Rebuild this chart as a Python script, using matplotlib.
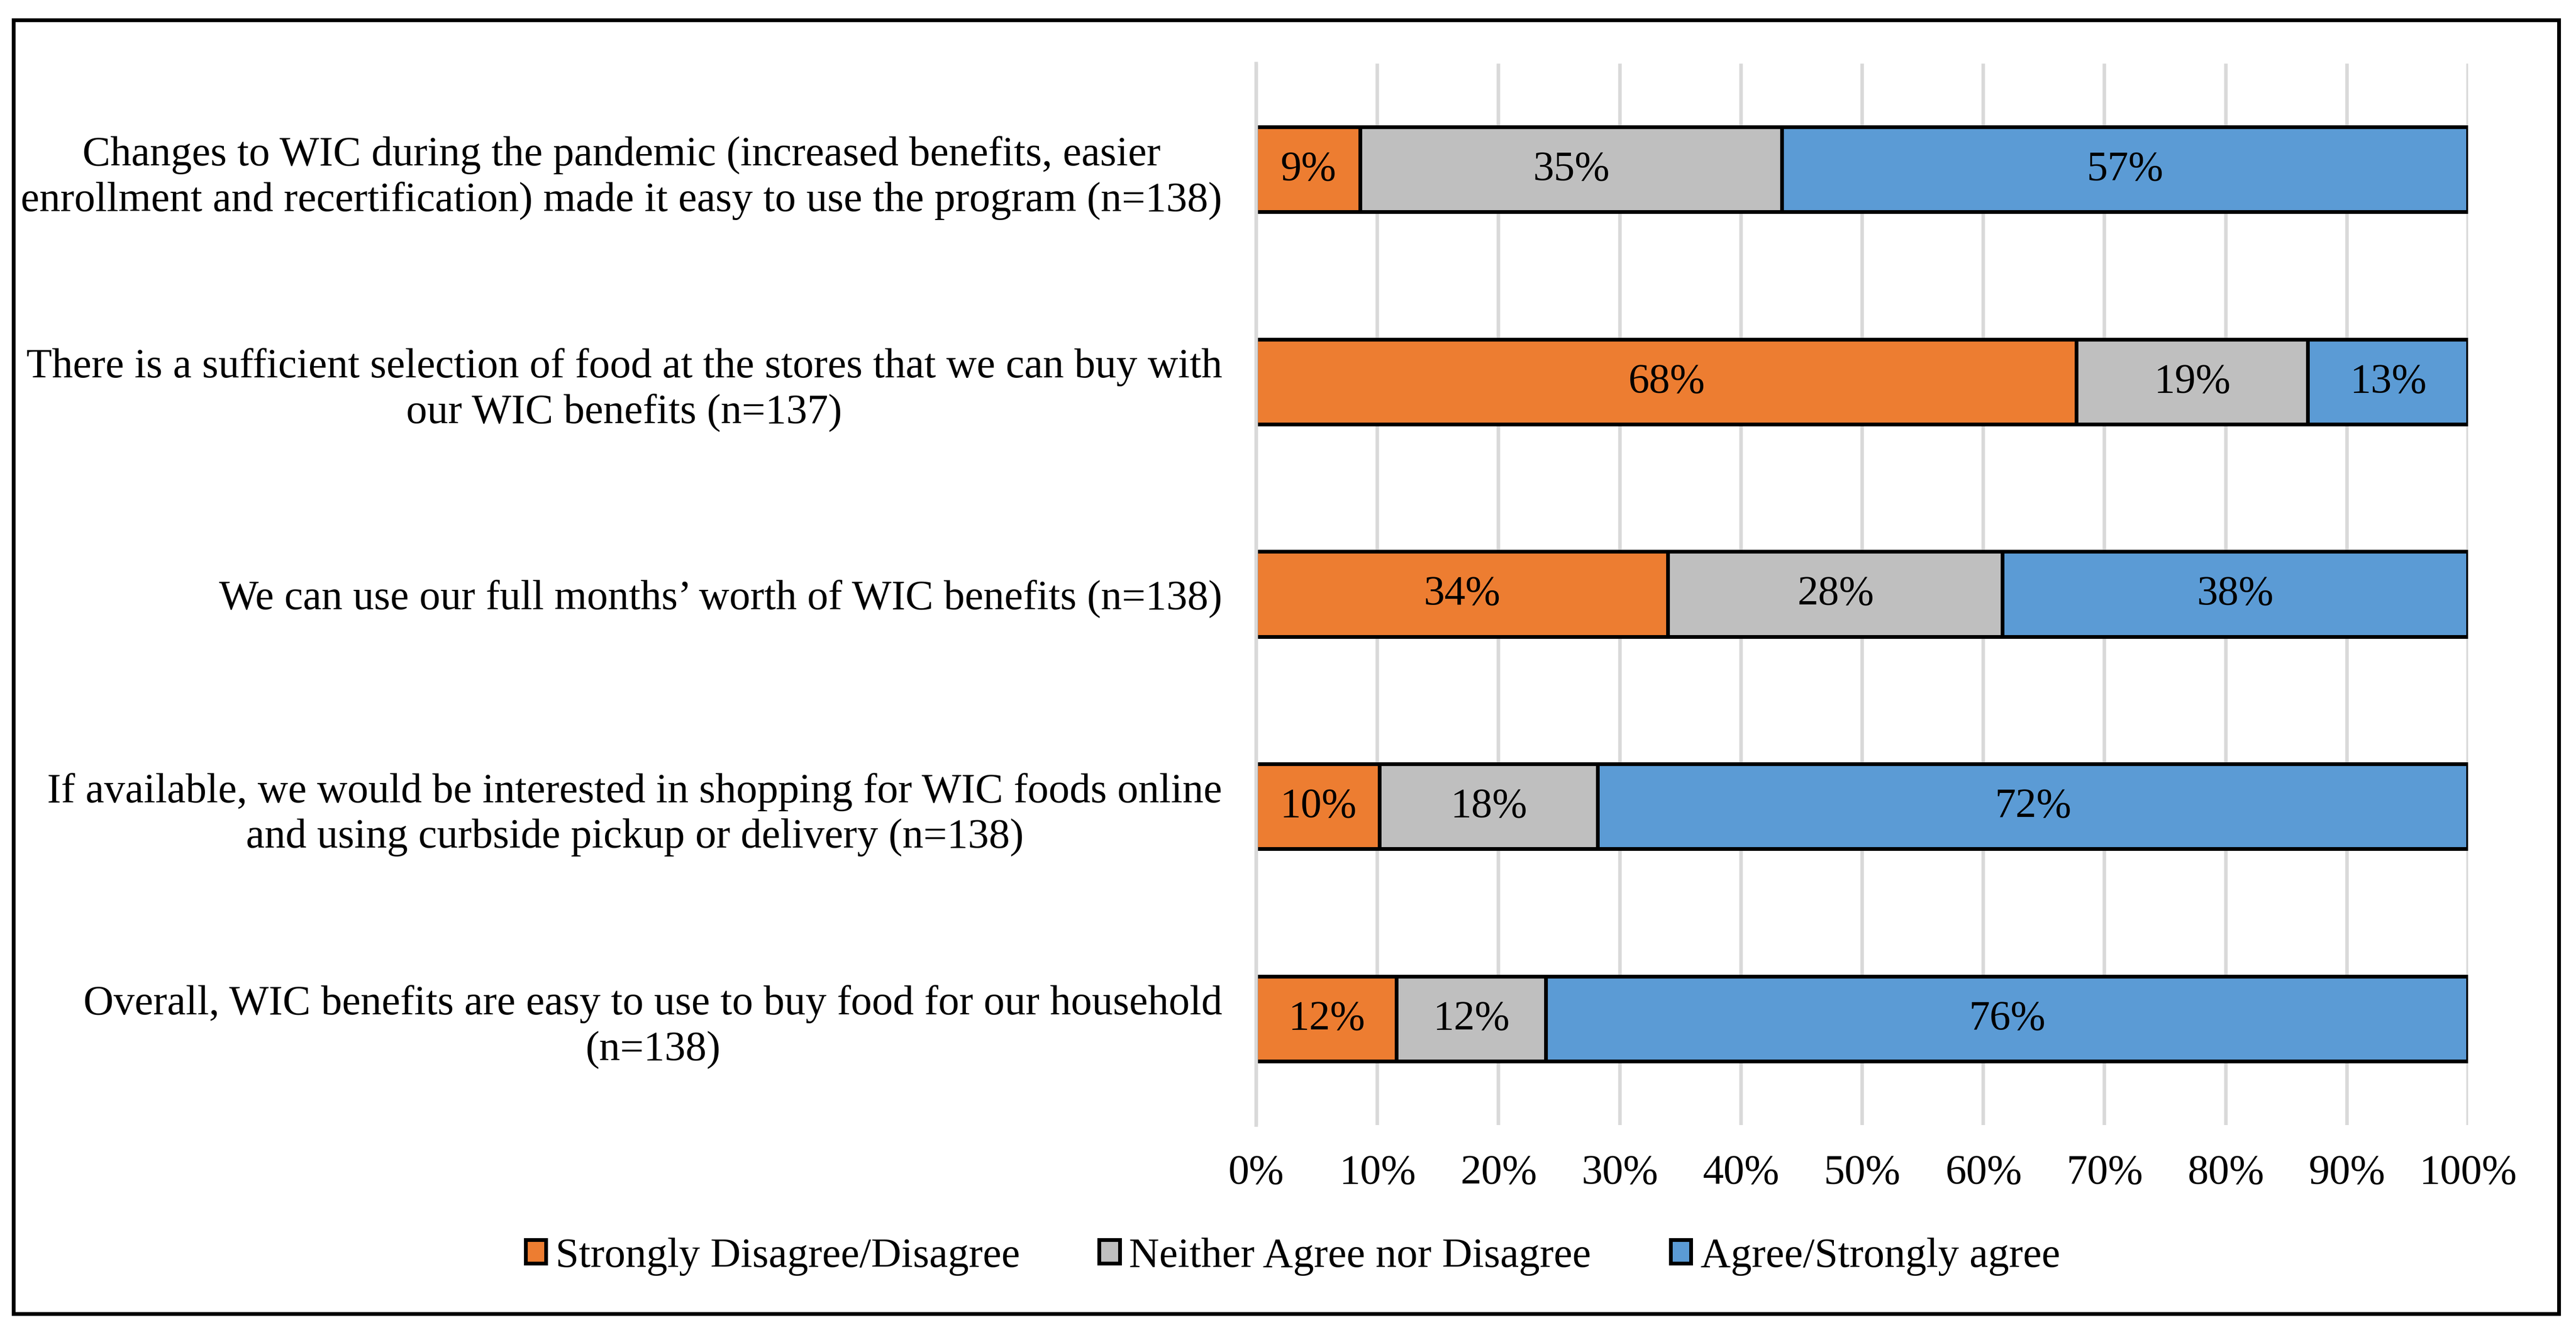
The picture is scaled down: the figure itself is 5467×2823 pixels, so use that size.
from __future__ import annotations

import matplotlib

matplotlib.use("Agg")

import matplotlib.pyplot as plt
from matplotlib.patches import Rectangle

questions = [
    "Changes to WIC during the pandemic (increased benefits, easier\n"
    "enrollment and recertification) made it easy to use the program (n=138)",
    "There is a sufficient selection of food at the stores that we can buy with\n"
    "our WIC benefits (n=137)",
    "We can use our full months\u2019 worth of WIC benefits (n=138)",
    "If available, we would be interested in shopping for WIC foods online\n"
    "and using curbside pickup or delivery (n=138)",
    "Overall, WIC benefits are easy to use to buy food for our household\n"
    "(n=138)",
]

series_names = [
    "Strongly Disagree/Disagree",
    "Neither Agree nor Disagree",
    "Agree/Strongly agree",
]

disagree = [8.6, 67.7, 34.0, 10.2, 11.6]
neutral = [34.8, 19.1, 27.6, 18.0, 12.3]
agree = [56.6, 13.2, 38.4, 71.8, 76.1]

x_ticks = [0, 10, 20, 30, 40, 50, 60, 70, 80, 90, 100]
x_tick_labels = [f"{t}%" for t in x_ticks]

colors = ["#ED7D31", "#BFBFBF", "#5B9BD5"]

W, H = 5467, 2823
DPI = 200
FONT = 32

plt.rcParams["font.family"] = ["Liberation Serif", "DejaVu Serif"]
plt.rcParams["font.size"] = FONT

fig = plt.figure(figsize=(W / DPI, H / DPI), dpi=DPI)
fig.patch.set_facecolor("white")

# axes placed in pixel terms of the reference
ax_left, ax_right = 2666, 5238
ax_top, ax_bottom = 135, 2388
ax = fig.add_axes([
    ax_left / W,
    1 - ax_bottom / H,
    (ax_right - ax_left) / W,
    (ax_bottom - ax_top) / H,
])

positions = list(range(len(questions)))
left = [0.0] * len(questions)
for name, values, color in zip(series_names, [disagree, neutral, agree], colors):
    bars = ax.barh(
        positions,
        values,
        left=left,
        height=0.40,
        color=color,
        edgecolor="black",
        linewidth=2.88,
        label=name,
        zorder=3,
    )
    for bar, value in zip(bars, values):
        cx = bar.get_x() + bar.get_width() / 2
        cy = bar.get_y() + bar.get_height() / 2
        ax.text(cx, cy, f"{value:.0f}%", ha="center", va="center",
                fontsize=FONT, color="black", zorder=4)
    left = [l + v for l, v in zip(left, values)]

ax.set_xlim(0, 100)
ax.set_ylim(len(questions) - 0.5, -0.5)
ax.set_xticks(x_ticks)
ax.set_xticklabels(x_tick_labels)
ax.set_yticks(positions)
ax.set_yticklabels(questions, multialignment="center", linespacing=1.25)
ax.tick_params(axis="both", length=0)
ax.tick_params(axis="x", pad=22)
ax.tick_params(axis="y", pad=26)
for spine in ax.spines.values():
    spine.set_visible(False)
# vertical axis line sits over the bars' left edges
ax.spines["left"].set_visible(True)
ax.spines["left"].set_color("#D9D9D9")
ax.spines["left"].set_linewidth(2.7)
ax.spines["left"].set_zorder(5)
ax.grid(True, axis="x", color="#D9D9D9", linewidth=2.7, zorder=0)
ax.set_axisbelow(True)

fig.legend(
    loc="center",
    bbox_to_anchor=(2744 / W, 1 - 2667 / H),
    ncol=3,
    frameon=False,
    fontsize=FONT,
    handlelength=0.49,
    handleheight=0.49,
    handletextpad=0.22,
    columnspacing=1.9,
)

border = Rectangle(
    (29 / W, 1 - 2789 / H),
    (5431 - 29) / W,
    (2789 - 43) / H,
    transform=fig.transFigure,
    fill=False,
    edgecolor="black",
    linewidth=2.9,
)
fig.patches.append(border)

fig.savefig("out.png", dpi=DPI)
plt.close(fig)
